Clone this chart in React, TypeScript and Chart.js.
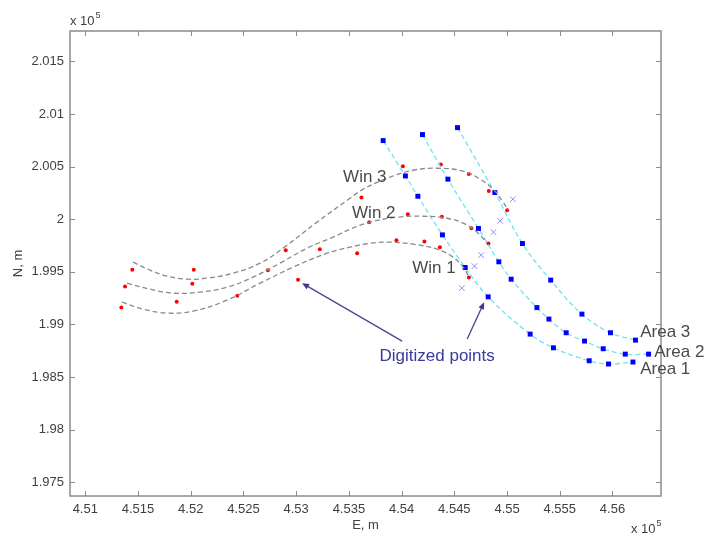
import React, { useEffect, useRef } from 'react';
import { Chart, registerables } from 'chart.js';
Chart.register(...registerables);

// Units: E and N in x10^5 m
const X_MIN = 4.50855;
const X_MAX = 4.5646;
const Y_MIN = 1.9737;
const Y_MAX = 2.01788;
const TICK_STEP = 0.005;

const redE = [4.51446, 4.51377, 4.51342, 4.52029, 4.52015, 4.51867, 4.52442, 4.52731, 4.52901, 4.53224, 4.53018,
  4.54012, 4.54372, 4.54638, 4.53619, 4.54827, 4.55001, 4.54059, 4.54382, 4.53692, 4.54662, 4.54824, 4.53951,
  4.54216, 4.54363, 4.53578, 4.54638];
const redN = [1.99519, 1.99361, 1.99162, 1.99519, 1.99386, 1.99215, 1.99272, 1.99516, 1.99706, 1.99715, 1.99424,
  2.00503, 2.00519, 2.0043, 2.00206, 2.00269, 2.00085, 2.00047, 2.00022, 1.99972, 1.99915, 1.99769, 1.99801,
  1.99788, 1.99734, 1.99677, 1.99447];

// Fitted window curves (gray dashed)
const win1E = [4.51348, 4.51547, 4.51775, 4.52022, 4.52344, 4.52658, 4.52971, 4.53293, 4.53511, 4.53701, 4.53891, 4.54109, 4.54337, 4.54489, 4.54584, 4.54631];
const win1N = [1.99212, 1.99146, 1.99108, 1.99127, 1.99231, 1.99392, 1.99544, 1.99677, 1.99734, 1.99772, 1.99782, 1.99763, 1.99715, 1.99639, 1.99544, 1.99468];
const win2E = [4.51396, 4.51614, 4.51832, 4.52088, 4.52344, 4.52591, 4.52847, 4.53103, 4.5335, 4.53511, 4.53701, 4.53957, 4.54204, 4.54432, 4.54584, 4.54716, 4.54811];
const win2N = [1.99392, 1.99335, 1.99297, 1.99307, 1.99354, 1.99449, 1.99582, 1.99725, 1.99829, 1.99905, 1.99972, 2.00019, 2.00028, 2.00009, 1.99962, 1.99877, 1.99772];
const win3E = [4.51453, 4.51614, 4.51775, 4.51965, 4.52155, 4.52401, 4.52658, 4.52876, 4.53198, 4.53511, 4.53635, 4.53863, 4.54109, 4.54337, 4.54584, 4.54745, 4.54868, 4.54963, 4.55011];
const win3N = [1.99592, 1.99516, 1.99459, 1.9943, 1.9944, 1.99487, 1.99582, 1.99725, 1.99972, 2.00199, 2.00285, 2.00389, 2.00465, 2.00484, 2.00456, 2.0038, 2.00285, 2.00161, 2.00085];

// Area points (blue squares, cyan dashed)
const area1E = [4.53825, 4.54036, 4.54154, 4.54387, 4.54603, 4.54821, 4.55219, 4.5544, 4.55779, 4.55962, 4.56194];
const area1N = [2.00747, 2.00411, 2.00218, 1.99851, 1.99541, 1.99262, 1.98908, 1.98778, 1.98655, 1.98624, 1.98643];
const area2E = [4.54198, 4.54439, 4.54729, 4.54922, 4.55039, 4.55283, 4.55397, 4.55561, 4.55735, 4.55912, 4.56121, 4.56342];
const area2N = [2.00804, 2.0038, 1.99912, 1.99595, 1.9943, 1.9916, 1.99051, 1.98921, 1.98842, 1.98769, 1.98718, 1.98718];
const area3E = [4.5453, 4.54884, 4.55146, 4.55414, 4.5571, 4.55981, 4.56218];
const area3N = [2.0087, 2.00253, 1.99769, 1.99421, 1.99098, 1.98921, 1.98851];

// Cross markers
const crossE = [4.55055, 4.54935, 4.54871, 4.54754, 4.54691, 4.54571];
const crossN = [2.0019, 1.99984, 1.99877, 1.99658, 1.99554, 1.99345];

// Text annotations (data coords, left/middle anchored)
const labelTexts = ['Win 3', 'Win 2', 'Win 1', 'Area 3', 'Area 2', 'Area 1'];
const labelE = [4.53445, 4.5353, 4.541, 4.56263, 4.56396, 4.56263];
const labelN = [2.00399, 2.00057, 1.99535, 1.98927, 1.98737, 1.98576];
const noteText = 'Digitized points';
const noteE = 4.54337;
const noteN = 1.987;
const arrowFromE = [4.54005, 4.54622];
const arrowFromN = [1.98842, 1.98861];
const arrowToE = [4.53056, 4.54783];
const arrowToN = [1.99392, 1.99212];

const pts = (xs: number[], ys: number[]) => xs.map((x, i) => ({ x, y: ys[i] }));

const FONT = "'Liberation Sans', Arial, sans-serif";

const decorPlugin = {
  id: 'decor',
  afterDatasetsDraw(chart: any) {
    const { ctx, chartArea: a, scales } = chart;
    const xs = scales.x;
    const ys = scales.y;
    ctx.save();
    // box
    ctx.strokeStyle = '#8c8c8c';
    ctx.lineWidth = 1.5;
    ctx.strokeRect(a.left, a.top, a.right - a.left, a.bottom - a.top);
    // inward ticks
    ctx.lineWidth = 1;
    ctx.beginPath();
    xs.ticks.forEach((t: any) => {
      const px = Math.round(xs.getPixelForValue(t.value)) + 0.5;
      ctx.moveTo(px, a.bottom); ctx.lineTo(px, a.bottom - 5);
      ctx.moveTo(px, a.top); ctx.lineTo(px, a.top + 5);
    });
    ys.ticks.forEach((t: any) => {
      const py = Math.round(ys.getPixelForValue(t.value)) + 0.5;
      ctx.moveTo(a.left, py); ctx.lineTo(a.left + 5, py);
      ctx.moveTo(a.right, py); ctx.lineTo(a.right - 5, py);
    });
    ctx.stroke();

    // axis titles
    ctx.fillStyle = '#404040';
    ctx.font = `13px ${FONT}`;
    ctx.textAlign = 'center';
    ctx.textBaseline = 'middle';
    ctx.fillText('E, m', (a.left + a.right) / 2, 525);
    ctx.save();
    ctx.translate(18, (a.top + a.bottom) / 2);
    ctx.rotate(-Math.PI / 2);
    ctx.fillText('N, m', 0, 0);
    ctx.restore();

    // exponent labels
    const expo = (x: number, y: number) => {
      ctx.textAlign = 'left';
      ctx.textBaseline = 'alphabetic';
      ctx.font = `13px ${FONT}`;
      ctx.fillText('x 10', x, y);
      const w = ctx.measureText('x 10').width;
      ctx.font = `9px ${FONT}`;
      ctx.fillText('5', x + w + 1, y - 7);
    };
    expo(a.left, 25);
    expo(631, 533);

    // annotations
    ctx.font = `17px ${FONT}`;
    ctx.fillStyle = '#4a4a4a';
    ctx.textAlign = 'left';
    ctx.textBaseline = 'middle';
    labelTexts.forEach((t, i) => {
      ctx.fillText(t, xs.getPixelForValue(labelE[i]), ys.getPixelForValue(labelN[i]));
    });
    ctx.fillStyle = '#3a3a9c';
    ctx.textAlign = 'center';
    ctx.fillText(noteText, xs.getPixelForValue(noteE), ys.getPixelForValue(noteN));

    // arrows
    ctx.strokeStyle = '#4a4a9c';
    ctx.fillStyle = '#3a3a8c';
    ctx.lineWidth = 1.4;
    arrowFromE.forEach((e, i) => {
      const x0 = xs.getPixelForValue(e), y0 = ys.getPixelForValue(arrowFromN[i]);
      const x1 = xs.getPixelForValue(arrowToE[i]), y1 = ys.getPixelForValue(arrowToN[i]);
      const ang = Math.atan2(y1 - y0, x1 - x0);
      ctx.beginPath();
      ctx.moveTo(x0, y0);
      ctx.lineTo(x1 - 4 * Math.cos(ang), y1 - 4 * Math.sin(ang));
      ctx.stroke();
      const hl = 7, hw = 3;
      ctx.beginPath();
      ctx.moveTo(x1, y1);
      ctx.lineTo(x1 - hl * Math.cos(ang) + hw * Math.sin(ang), y1 - hl * Math.sin(ang) - hw * Math.cos(ang));
      ctx.lineTo(x1 - hl * Math.cos(ang) - hw * Math.sin(ang), y1 - hl * Math.sin(ang) + hw * Math.cos(ang));
      ctx.closePath();
      ctx.fill();
    });
    ctx.restore();
  },
};

export default function App() {
  const ref = useRef<HTMLCanvasElement | null>(null);
  useEffect(() => {
    if (!ref.current) return;
    const grayLine = (xs: number[], ys: number[]) => ({
      type: 'line' as const,
      data: pts(xs, ys),
      borderColor: '#8a8a8a',
      borderWidth: 1.3,
      borderDash: [5, 3],
      pointRadius: 0,
      tension: 0.4,
      fill: false,
    });
    const areaLine = (xs: number[], ys: number[]) => ({
      type: 'line' as const,
      data: pts(xs, ys),
      borderColor: '#6fe3ee',
      borderWidth: 1.3,
      borderDash: [5, 3],
      pointStyle: 'rect',
      pointRadius: 3.5,
      pointBackgroundColor: '#0000ff',
      pointBorderColor: '#0000ff',
      pointBorderWidth: 0,
      tension: 0.4,
      fill: false,
    });
    const chart = new Chart(ref.current, {
      type: 'scatter',
      data: {
        datasets: [
          grayLine(win1E, win1N),
          grayLine(win2E, win2N),
          grayLine(win3E, win3N),
          areaLine(area1E, area1N),
          areaLine(area2E, area2N),
          areaLine(area3E, area3N),
          {
            data: pts(crossE, crossN),
            pointStyle: 'crossRot',
            pointRadius: 4,
            borderColor: '#8c8cff',
            pointBorderColor: '#8c8cff',
            pointBorderWidth: 1,
          },
          {
            data: pts(redE, redN),
            pointRadius: 2,
            pointBackgroundColor: '#ff0000',
            pointBorderColor: '#ff0000',
            pointBorderWidth: 0,
          },
        ] as any,
      },
      options: {
        animation: false,
        responsive: false,
        layout: { padding: { top: 31, right: 46, left: 0, bottom: 0 } },
        plugins: { legend: { display: false }, tooltip: { enabled: false } },
        scales: {
          x: {
            type: 'linear',
            min: X_MIN,
            max: X_MAX,
            grid: { display: false, drawTicks: false },
            border: { display: false },
            ticks: {
              stepSize: TICK_STEP,
              includeBounds: false,
              padding: 6,
              color: '#404040',
              font: { size: 13, family: FONT },
              maxRotation: 0,
              autoSkip: false,
              callback: (v: any) => String(parseFloat(Number(v).toFixed(4))),
            },
            afterFit: (s: any) => { s.height = 39; },
          },
          y: {
            type: 'linear',
            min: Y_MIN,
            max: Y_MAX,
            grid: { display: false, drawTicks: false },
            border: { display: false },
            ticks: {
              stepSize: TICK_STEP,
              includeBounds: false,
              padding: 6,
              color: '#404040',
              font: { size: 13, family: FONT },
              autoSkip: false,
              callback: (v: any) => String(parseFloat(Number(v).toFixed(4))),
            },
            afterFit: (s: any) => { s.width = 70; },
          },
        },
      },
      plugins: [decorPlugin],
    });
    return () => chart.destroy();
  }, []);
  return (
    <div style={{ position: 'fixed', left: 0, top: 0, width: 707, height: 535, background: '#fff' }}>
      <canvas ref={ref} width={707} height={535} style={{ width: 707, height: 535 }} />
    </div>
  );
}
